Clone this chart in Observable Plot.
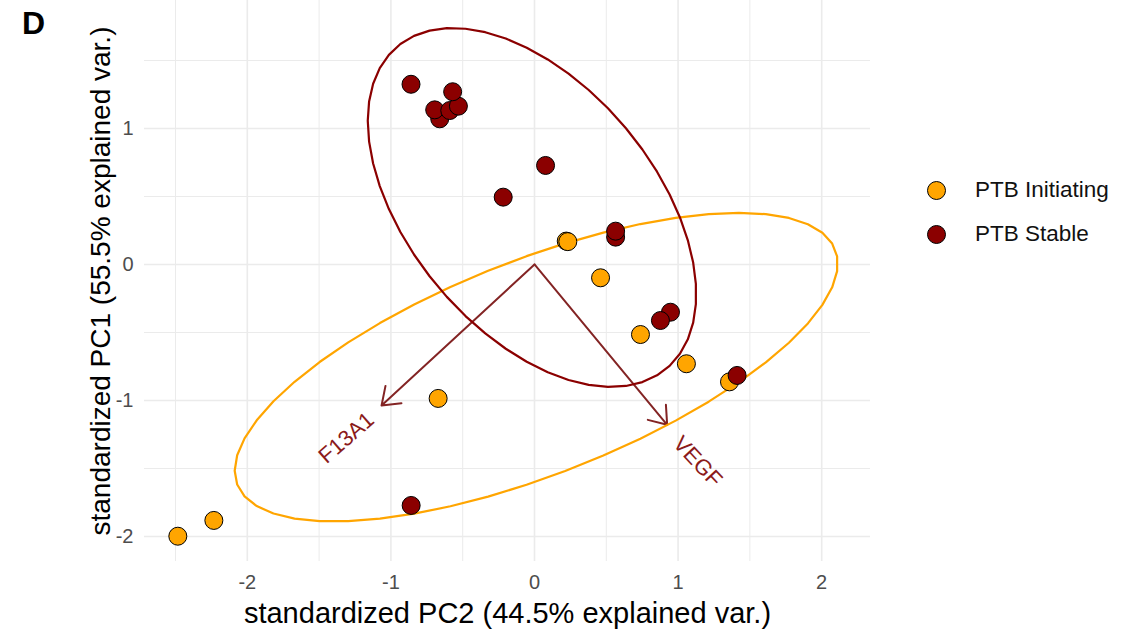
<!DOCTYPE html>
<html>
<head>
<meta charset="utf-8">
<script src="https://cdn.jsdelivr.net/npm/d3@7"></script>
<script src="https://cdn.jsdelivr.net/npm/@observablehq/plot@0.6"></script>
<style>
  html, body { margin: 0; padding: 0; background: #fff; }
  #wrap { position: relative; width: 1128px; height: 630px; overflow: hidden; font-family: "Liberation Sans", Arial, sans-serif; }
  #tag { position: absolute; left: 22px; top: 5px; font-weight: bold; font-size: 32px; color: #000; }
  #legend { position: absolute; left: 927px; top: 168px; }
  .li { display: flex; align-items: center; height: 44px; margin-top: 0; }
  .sw { width: 19px; height: 19px; border-radius: 50%; border: 1px solid #000; box-sizing: border-box; margin-right: 29px; }
  .lt { font-size: 22.5px; color: #111; }
</style>
</head>
<body>
<div id="wrap">
  <div id="chart"></div>
  <div id="tag">D</div>
  <div id="legend"></div>
</div>
<script>
// ---- data ----
const groups = ["PTB Initiating", "PTB Stable"];
const groupColors = ["#FFA500", "#8B0000"];

const initiatingPC2 = [0.221, 0.232, 0.46, 0.738, 1.058, 1.358, -0.671, -2.233, -2.484];
const initiatingPC1 = [0.172, 0.168, -0.098, -0.515, -0.73, -0.863, -0.985, -1.882, -1.998];

const stablePC2 = [-0.86, -0.66, -0.695, -0.59, -0.53, -0.57, 0.077, -0.218, 0.565, 0.565, 0.947, 0.877, 1.411, -0.859];
const stablePC1 = [1.325, 1.071, 1.137, 1.132, 1.164, 1.27, 0.728, 0.495, 0.201, 0.245, -0.351, -0.412, -0.816, -1.772];

// loadings (arrows)
const varNames = ["F13A1", "VEGF"];
const loadingPC2 = [-1.065, 0.924];
const loadingPC1 = [-1.037, -1.179];
const varLabelAngle = [-41, 47];

// ellipse parameters (centre and covariance, 68% normal ellipse)
const ellipseGroup = ["PTB Initiating", "PTB Stable"];
const ellipseCx = [0.012, -0.0175];
const ellipseCy = [-0.755, 0.419];
const ellipseVarX = [1.935, 0.574];
const ellipseVarY = [0.565, 0.764];
const ellipseCovXY = [0.702, -0.32];
const ellipseProb = 0.68;

// axis ticks
const xTicks = [-2, -1, 0, 1, 2];
const yTicks = [-2, -1, 0, 1];
const xMinor = [-2.5, -1.5, -0.5, 0.5, 1.5];
const yMinor = [-1.5, -0.5, 0.5, 1.5];

const xLabel = "standardized PC2 (44.5% explained var.)";
const yLabel = "standardized PC1 (55.5% explained var.)";

// ---- build tables ----
const points = [];
initiatingPC2.forEach((x, i) => points.push({group: groups[0], x, y: initiatingPC1[i]}));
stablePC2.forEach((x, i) => points.push({group: groups[1], x, y: stablePC1[i]}));

const arrows = varNames.map((name, i) => ({name, x: loadingPC2[i], y: loadingPC1[i], angle: varLabelAngle[i]}));

const ed = Math.sqrt(-2 * Math.log(1 - ellipseProb)); // sqrt(qchisq(p, 2))
const ellipsePts = [];
ellipseGroup.forEach((g, k) => {
  const a = Math.sqrt(ellipseVarX[k]);
  const b = ellipseCovXY[k] / a;
  const c = Math.sqrt(ellipseVarY[k] - b * b);
  const n = 50;
  for (let i = 0; i < n; i++) {
    const t = -Math.PI + (2 * Math.PI * i) / (n - 1);
    const cx = Math.cos(t), sy = Math.sin(t);
    ellipsePts.push({group: g, x: ellipseCx[k] + ed * (cx * a), y: ellipseCy[k] + ed * (cx * b + sy * c)});
  }
});

const xDomain = [-2.716, 2.340];
const yDomain = [-2.184, 1.941];
const font = '"Liberation Sans", Arial, sans-serif';
const grid = "#EBEBEB";

const chart = Plot.plot({
  width: 1128,
  height: 630,
  marginLeft: 144,
  marginRight: 258,
  marginTop: 0,
  marginBottom: 69,
  style: {fontFamily: font, background: "transparent"},
  x: {domain: xDomain, axis: null},
  y: {domain: yDomain, axis: null},
  color: {domain: groups, range: groupColors},
  marks: [
    Plot.ruleX(xMinor, {x: d => d, stroke: grid, strokeWidth: 1}),
    Plot.ruleY(yMinor, {y: d => d, stroke: grid, strokeWidth: 1}),
    Plot.ruleX(xTicks, {x: d => d, stroke: grid, strokeWidth: 1.6}),
    Plot.ruleY(yTicks, {y: d => d, stroke: grid, strokeWidth: 1.6}),
    Plot.arrow(arrows, {x1: () => 0, y1: () => 0, x2: "x", y2: "y", stroke: "#832424", strokeWidth: 2, headLength: 15, headAngle: 72}),
    Plot.line(ellipsePts, {x: "x", y: "y", z: "group", stroke: "group", strokeWidth: 2.2, curve: "linear"}),
    Plot.dot(points, {x: "x", y: "y", fill: "group", stroke: "#000", strokeWidth: 1, r: 9}),
    Plot.text(arrows, {x: d => d.x * 1.23, y: d => d.y * 1.23, text: "name", rotate: "angle", fill: "#8B1A1A", fontSize: 22, textAnchor: "middle", lineAnchor: "middle"}),
    Plot.text(xTicks, {x: d => d, y: () => yDomain[0], text: d => String(d), dy: 21, fill: "#4D4D4D", fontSize: 20, textAnchor: "middle", lineAnchor: "middle"}),
    Plot.text(yTicks, {x: () => xDomain[0], y: d => d, text: d => String(d), dx: -11, fill: "#4D4D4D", fontSize: 20, textAnchor: "end", lineAnchor: "middle"}),
    Plot.text([xLabel], {frameAnchor: "bottom", text: d => d, dy: 52, fontSize: 29, fill: "#000", textAnchor: "middle", lineAnchor: "middle"}),
    Plot.text([yLabel], {frameAnchor: "left", text: d => d, dx: -43, rotate: -90, fontSize: 28, fill: "#000", textAnchor: "middle", lineAnchor: "middle"})
  ]
});
document.getElementById("chart").appendChild(chart);

// legend
const legend = document.getElementById("legend");
groups.forEach((g, i) => {
  const row = document.createElement("div");
  row.className = "li";
  const sw = document.createElement("div");
  sw.className = "sw";
  sw.style.background = groupColors[i];
  const t = document.createElement("span");
  t.className = "lt";
  t.textContent = g;
  row.appendChild(sw);
  row.appendChild(t);
  legend.appendChild(row);
});
</script>
</body>
</html>
